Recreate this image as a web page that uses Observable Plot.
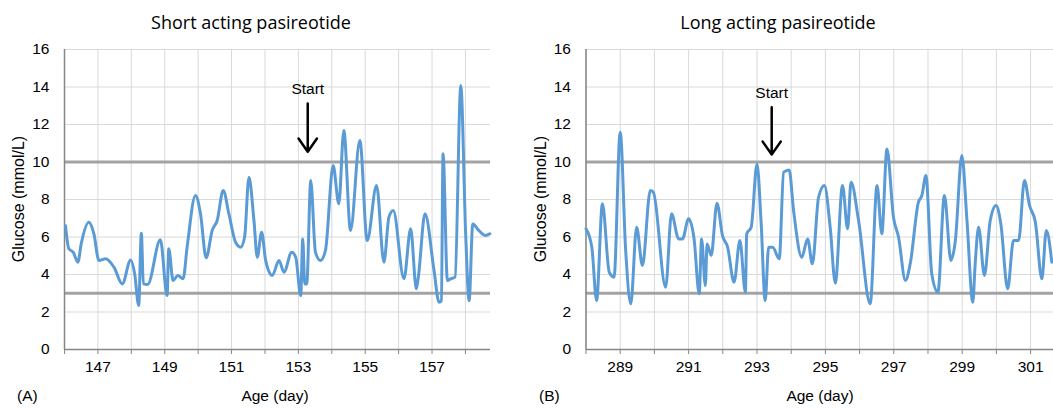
<!DOCTYPE html>
<html>
<head>
<meta charset="utf-8">
<script src="https://cdn.jsdelivr.net/npm/d3@7"></script>
<script src="https://cdn.jsdelivr.net/npm/@observablehq/plot@0.6"></script>
<style>
  html, body { margin: 0; padding: 0; background: #fff; }
  #wrap { position: relative; width: 1053px; height: 409px; overflow: hidden; font-family: "Liberation Sans", Arial, sans-serif; }
  #wrap svg { position: absolute; top: 0; }
  .title { position: absolute; top: 22px; transform: translate(-50%, -50%); font-family: "Open Sans", "Noto Sans", sans-serif; font-size: 18px; white-space: nowrap; color: #000; }
  .xlab { position: absolute; top: 396px; transform: translate(-50%, -50%); font-size: 15.5px; white-space: nowrap; color: #000; }
  .ylab { position: absolute; top: 199px; transform: translate(-50%, -50%) rotate(-90deg); font-size: 16px; white-space: nowrap; color: #000; }
  .panel { position: absolute; top: 396px; transform: translate(0, -50%); font-size: 15.5px; color: #000; }
</style>
</head>
<body>
<div id="wrap"></div>
<script>
// ---- Data: Short acting pasireotide (Age in days, Glucose mmol/L) ----
const shortDays = [146.03,146.13,146.26,146.40,146.50,146.73,146.88,147.03,147.23,147.48,147.73,147.98,148.10,148.22,148.30,148.36,148.49,148.87,149.07,149.12,149.25,149.39,149.55,149.67,149.92,150.07,150.24,150.42,150.57,150.75,150.92,151.12,151.27,151.39,151.52,151.67,151.77,151.90,152.02,152.22,152.42,152.57,152.80,152.92,153.07,153.13,153.19,153.25,153.37,153.51,153.66,153.81,154.04,154.21,154.36,154.56,154.84,155.06,155.34,155.56,155.71,155.84,156.16,156.36,156.53,156.59,156.79,157.06,157.21,157.28,157.33,157.46,157.56,157.69,157.86,158.01,158.11,158.22,158.40,158.60,158.73];
const shortGlucose = [6.6,5.37,5.19,4.66,5.64,6.79,6.17,4.75,4.84,4.39,3.5,4.78,4.04,2.35,6.2,3.5,3.47,5.85,2.88,5.37,3.68,3.95,3.77,5.46,8.21,7.24,4.89,6.35,6.88,8.48,7.24,5.72,5.46,5.99,9.19,6.88,4.92,6.26,4.75,3.95,4.75,4.12,5.19,4.92,2.88,5.9,3.5,3.5,9.01,5.19,4.75,5.28,9.81,7.77,11.68,6.35,11.15,5.81,8.75,4.66,7.06,7.41,3.77,6.44,3.24,3.86,7.24,4.21,2.52,2.61,10.44,3.68,3.77,3.86,14.08,5.99,2.61,6.7,6.35,6.08,6.17];

// ---- Data: Long acting pasireotide ----
const longDays = [288.00,288.17,288.31,288.48,288.68,288.82,289.00,289.16,289.31,289.48,289.65,289.88,289.97,290.33,290.50,290.71,290.82,291.00,291.16,291.31,291.38,291.49,291.54,291.66,291.83,291.99,292.14,292.33,292.50,292.66,292.70,292.83,293.00,293.12,293.24,293.34,293.46,293.65,293.78,293.94,294.07,294.31,294.48,294.62,294.80,294.97,295.14,295.29,295.50,295.65,295.75,295.97,296.31,296.51,296.65,296.80,296.99,297.14,297.34,297.48,297.72,297.82,297.94,298.11,298.29,298.48,298.67,298.80,298.99,299.14,299.31,299.38,299.48,299.65,299.82,299.99,300.13,300.33,300.50,300.65,300.82,300.97,301.14,301.33,301.46,301.62];
const longGlucose = [6.44,5.46,2.61,7.77,4.12,3.86,11.59,5.28,2.44,6.52,4.48,8.48,8.39,3.32,7.24,5.9,5.9,6.97,5.9,2.97,5.9,3.41,5.63,5.01,7.8,6.08,5.46,3.59,5.81,3.06,6.17,6.52,9.9,6.79,2.61,5.46,5.46,4.84,9.46,9.58,7.41,4.92,5.9,4.57,8.12,8.75,6.52,3.54,8.75,6.44,8.92,6.88,2.44,8.75,6.17,10.7,7.06,5.99,3.68,4.57,7.86,8.21,9.28,4.04,3.06,8.21,4.75,5.81,10.35,6.88,2.52,4.57,6.52,3.95,6.88,7.68,6.7,3.24,5.81,5.81,9.01,7.68,6.79,3.77,6.35,4.66];

// ---- Axes / reference values ----
const yTicks = [0, 2, 4, 6, 8, 10, 12, 14, 16];
const thresholds = [3, 10];
const shortTickDays = [146,147,148,149,150,151,152,153,154,155,156,157,158];
const shortLabelDays = [147,149,151,153,155,157];
const longTickDays = [288,289,290,291,292,293,294,295,296,297,298,299,300,301];
const longLabelDays = [289,291,293,295,297,299,301];
const shortDomain = [146, 158.75];
const longDomain = [288, 301.67];

// Start annotations (day, arrow top, arrow tip, label height)
const shortStart = [{x: 153.28, y1: 13.12, y2: 10.55, ty: 13.9}];
const longStart = [{x: 293.43, y1: 12.92, y2: 10.4, ty: 13.68}];

function panel({days, glucose, domain, tickDays, labelDays, start, width, marginLeft, marginRight}) {
  const data = days.map((d, i) => ({day: d, g: glucose[i]}));
  return Plot.plot({
    width, height: 409,
    marginTop: 49, marginBottom: 60, marginLeft, marginRight,
    x: {domain, label: null},
    y: {domain: [0, 16], label: null},
    style: {fontFamily: '"Liberation Sans", Arial, sans-serif', fontSize: "15.5px", color: "#000", background: "transparent", overflow: "visible"},
    marks: [
      Plot.gridX(tickDays, {stroke: "#d9d9d9", strokeOpacity: 1, strokeWidth: 1}),
      Plot.gridY(yTicks, {stroke: "#d9d9d9", strokeOpacity: 1, strokeWidth: 1}),
      Plot.ruleY(thresholds, {stroke: "#a3a3a3", strokeWidth: 3}),
      Plot.ruleX([domain[0]], {stroke: "#868686", strokeWidth: 1.5}),
      Plot.ruleY([0], {stroke: "#868686", strokeWidth: 1.5}),
      Plot.axisY({ticks: yTicks, tickSize: 0, tickPadding: 15, label: null}),
      Plot.axisX({ticks: tickDays, tickSize: 5, tickPadding: 6, stroke: "#868686",
        tickFormat: d => labelDays.includes(d) ? String(d) : "", label: null}),
      Plot.line(data, {x: "day", y: "g", stroke: "#5b9bd5", strokeWidth: 3, curve: "monotone-x", strokeLinejoin: "round"}),
      Plot.arrow(start, {x1: "x", y1: "y1", x2: "x", y2: "y2", stroke: "#000", strokeWidth: 2.5, headLength: 13, headAngle: 70}),
      Plot.text(start, {x: "x", y: "ty", text: () => "Start", fontSize: 15.5, fill: "#000"})
    ]
  });
}

const wrap = document.getElementById("wrap");
const left = panel({days: shortDays, glucose: shortGlucose, domain: shortDomain, tickDays: shortTickDays, labelDays: shortLabelDays, start: shortStart, width: 530, marginLeft: 64, marginRight: 40});
left.style.left = "0px";
wrap.appendChild(left);
const right = panel({days: longDays, glucose: longGlucose, domain: longDomain, tickDays: longTickDays, labelDays: longLabelDays, start: longStart, width: 523, marginLeft: 55.5, marginRight: 0});
right.style.left = "530px";
wrap.appendChild(right);

function label(cls, text, x) {
  const d = document.createElement("div");
  d.className = cls; d.textContent = text; d.style.left = x + "px";
  wrap.appendChild(d);
}
label("title", "Short acting pasireotide", 251);
label("title", "Long acting pasireotide", 778);
label("xlab", "Age (day)", 275);
label("xlab", "Age (day)", 820);
label("ylab", "Glucose (mmol/L)", 19);
label("ylab", "Glucose (mmol/L)", 541);
label("panel", "(A)", 17);
label("panel", "(B)", 539);
</script>
</body>
</html>
